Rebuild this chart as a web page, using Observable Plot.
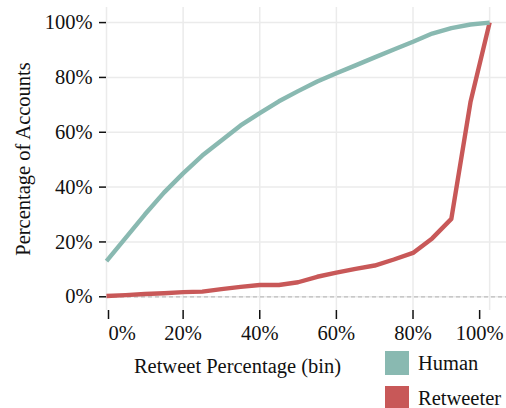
<!DOCTYPE html>
<html>
<head>
<meta charset="utf-8">
<script src="https://cdn.jsdelivr.net/npm/d3@7"></script>
<script src="https://cdn.jsdelivr.net/npm/@observablehq/plot@0.6"></script>
<style>
  html, body { margin: 0; padding: 0; background: #fff; }
  #wrap { position: relative; width: 506px; height: 408px; overflow: hidden; font-family: "Liberation Serif", "DejaVu Serif", serif; }
  #legend { position: absolute; left: 385px; top: 351px; }
  .item { display: flex; align-items: center; height: 24px; margin-bottom: 11px; font-size: 20.5px; color: #111; }
  .sw { width: 24px; height: 24px; margin-right: 9px; flex: none; }
</style>
</head>
<body>
<div id="wrap"></div>
<script>
// Retweet percentage bins (%)
const bins = [0, 5, 10, 15, 20, 25, 30, 35, 40, 45, 50, 55, 60, 65, 70, 75, 80, 85, 90, 95, 100];
// Cumulative percentage of accounts per bin
const human     = [13, 21.5, 30, 38, 45, 51.5, 57, 62.5, 67, 71.3, 75, 78.5, 81.5, 84.4, 87.3, 90.2, 93, 96, 98, 99.3, 100];
const retweeter = [0.3, 0.6, 1.0, 1.3, 1.7, 1.9, 2.8, 3.6, 4.3, 4.3, 5.3, 7.3, 8.8, 10.2, 11.4, 13.6, 16.0, 21.3, 28.4, 71, 100];
const seriesNames = ["Human", "Retweeter"];
const seriesColors = ["#89b9b1", "#c85858"];
const xTicks = [0, 20, 40, 60, 80, 100];
const yTicks = [0, 20, 40, 60, 80, 100];
const xTitle = "Retweet Percentage (bin)";
const yTitle = "Percentage of Accounts";

const rows = [];
bins.forEach((b, i) => {
  rows.push({bin: b, value: human[i], group: seriesNames[0]});
  rows.push({bin: b, value: retweeter[i], group: seriesNames[1]});
});
const pct = d => `${d}%`;

const chart = Plot.plot({
  width: 506,
  height: 408,
  marginLeft: 106,
  marginRight: 0,
  marginTop: 7,
  marginBottom: 98,
  style: {fontFamily: "'Liberation Serif', serif", fontSize: "20.5px", color: "#111", background: "#fff"},
  x: {domain: [0, 104.4]},
  y: {domain: [-5, 105.5]},
  color: {domain: seriesNames, range: seriesColors},
  marks: [
    Plot.gridX(xTicks, {stroke: "#ebebeb", strokeOpacity: 1, strokeWidth: 1.5}),
    Plot.gridY(yTicks, {stroke: "#ebebeb", strokeOpacity: 1, strokeWidth: 1.5}),
    Plot.ruleY([0], {stroke: "#bdbdbd", strokeDasharray: "4,3", strokeWidth: 1.2}),
    Plot.axisY(yTicks, {tickSize: 7, tickPadding: 7, tickFormat: pct, stroke: "#111", strokeWidth: 1.5, fill: "#111",
      label: yTitle, labelAnchor: "center", labelArrow: "none", labelOffset: 91}),
    Plot.axisX([20, 40, 60, 80], {tickSize: 9, tickPadding: 6, tickFormat: pct, stroke: "#111", strokeWidth: 1.5, fill: "#111", label: null}),
    Plot.axisX([0], {tickSize: 9, tickPadding: 6, tickFormat: pct, stroke: "#111", strokeWidth: 1.5, fill: "#111", label: null, textAnchor: "start", dx: 2}),
    Plot.axisX([100], {tickSize: 9, tickPadding: 6, tickFormat: pct, stroke: "#111", strokeWidth: 1.5, fill: "#111", label: null, dx: -10}),
    Plot.text([xTitle], {frameAnchor: "bottom", dx: -69, dy: 56, fontSize: 20.5, fill: "#111", lineAnchor: "middle"}),
    Plot.line(rows.filter(d => d.group === seriesNames[1]), {x: "bin", y: "value", stroke: "group", strokeWidth: 4.4, strokeLinejoin: "round", strokeLinecap: "butt"}),
    Plot.line(rows.filter(d => d.group === seriesNames[0]), {x: "bin", y: "value", stroke: "group", strokeWidth: 4.4, strokeLinejoin: "round", strokeLinecap: "butt"})
  ]
});

const wrap = document.getElementById("wrap");
wrap.appendChild(chart);
const legend = document.createElement("div");
legend.id = "legend";
seriesNames.forEach((name, i) => {
  const item = document.createElement("div");
  item.className = "item";
  const sw = document.createElement("div");
  sw.className = "sw";
  sw.style.background = seriesColors[i];
  const label = document.createElement("span");
  label.textContent = name;
  item.appendChild(sw);
  item.appendChild(label);
  legend.appendChild(item);
});
wrap.appendChild(legend);
</script>
</body>
</html>
